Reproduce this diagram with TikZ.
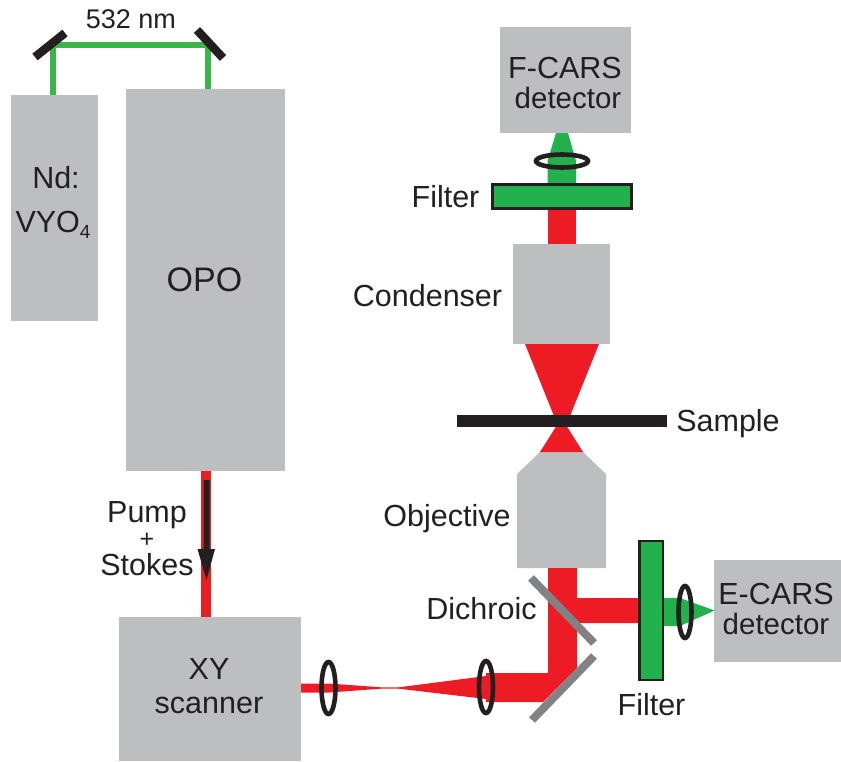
\documentclass[tikz,border=0pt]{standalone}
\usepackage{fontspec}
\setmainfont{Liberation Sans}
\definecolor{boxgray}{HTML}{BCBEC0}
\definecolor{beamred}{HTML}{ED1C24}
\definecolor{beamgreen}{HTML}{22B14C}
\definecolor{topgreen}{HTML}{39B54A}
\definecolor{inkblack}{HTML}{231F20}
\definecolor{mirrorgray}{HTML}{808285}
\tikzset{
  lbl/.style={anchor=base,inner sep=0pt,text=inkblack,font=\fontsize{30.5}{36}\selectfont},
  lens/.style={draw=inkblack,line width=4.6pt},
  filterbar/.style={fill=beamgreen,draw=inkblack,line width=2.6pt},
  mirrorbar/.style={draw=inkblack,line width=8.5pt},
  dichroicbar/.style={draw=mirrorgray,line width=8pt},
  greenline/.style={draw=topgreen,line width=5.5pt},
}
\begin{document}
\begin{tikzpicture}[x=1pt,y=-1pt]
\useasboundingbox (0,0) rectangle (841,761);
% boxes
\fill[boxgray] (11,95) rectangle (98,321);
\fill[boxgray] (126,89) rectangle (285,471);
\fill[boxgray] (500,27) rectangle (631,133);
\fill[boxgray] (513,244) rectangle (610,344);
\fill[boxgray] (540,452) -- (583,452) -- (606,474) -- (606,568) -- (517,568) -- (517,474) -- cycle;
\fill[boxgray] (714,560) rectangle (841,662);
\fill[boxgray] (119,617) rectangle (301,761);
% green line and mirrors
\draw[greenline,line join=miter] (53,95) -- (53,45) -- (208,45) -- (208,89);
\draw[mirrorbar] (35,57) -- (65,33);
\draw[mirrorbar] (197,30) -- (223,58);
% pump beam
\fill[beamred] (201,471) rectangle (211,617);
\fill[inkblack] (203.5,480) -- (209.5,480) -- (209.5,549) -- (215,549) -- (206.5,580) -- (197.5,549) -- (203.5,549) -- cycle;
% scanner beam
\fill[beamred] (301,683.5) -- (329,683.5) -- (382,687.4) -- (398,687.4) -- (486,676) -- (486,673) -- (548,673) -- (548,568) -- (577,568) -- (577,598) -- (639,598) -- (639,623) -- (577,623) -- (577,668) -- (543,702) -- (486,702) -- (486,699) -- (398,688.6) -- (382,688.6) -- (329,692.5) -- (301,692.5) -- cycle;
% red cones
\fill[beamred] (525,344) -- (599,344) -- (568,421) -- (556,421) -- cycle;
\fill[beamred] (540,452) -- (583,452) -- (566,425) -- (557,425) -- cycle;
\fill[beamred] (547.5,209) rectangle (576,244);
% sample
\fill[inkblack] (457,415) rectangle (667,427);
% green beams
\fill[beamgreen] (547.5,184) -- (547.5,161) -- (556,133) -- (568,133) -- (576,161) -- (576,184) -- cycle;
\fill[beamgreen] (663,598) -- (680,598) -- (714.5,610.5) -- (680,626) -- (663,626) -- cycle;
% filters
\path[filterbar] (492.5,184.5) rectangle (631.5,208.5);
\path[filterbar] (639.5,541) rectangle (663,680);
% lenses
\draw[lens] (562,161) ellipse [x radius=26,y radius=6.5];
\draw[lens] (685,612) ellipse [x radius=6.5,y radius=26];
\draw[lens] (328.5,688) ellipse [x radius=7,y radius=26];
\draw[lens] (486,687) ellipse [x radius=7,y radius=26];
% mirrors
\draw[dichroicbar] (531,578) -- (594,643);
\draw[dichroicbar] (532,720) -- (594,656);
% labels
\node[lbl,font=\fontsize{27}{32}\selectfont] (lambda) at (131,28) {532 nm};
\node[lbl] (nd) at (56,188) {Nd:};
\node[lbl] (vyo) at (53,232) {VYO\raisebox{-0.22em}{\fontsize{19}{20}\selectfont 4}};
\node[lbl,font=\fontsize{34}{40}\selectfont] (opo) at (204.5,291) {OPO};
\node[lbl] (pump) at (147,522) {Pump};
\node[lbl,font=\fontsize{25}{30}\selectfont] (plus) at (147,547.5) {+};
\node[lbl] (stokes) at (147,575) {Stokes};
\node[lbl] (xy) at (209,679) {XY};
\node[lbl] (scanner) at (209,713) {scanner};
\node[lbl] (fcars) at (565,78) {F-CARS};
\node[lbl,font=\fontsize{29.5}{35}\selectfont] (fdet) at (568,108) {detector};
\node[lbl] (ffilter) at (445.5,207) {Filter};
\node[lbl] (cond) at (427.5,306) {Condenser};
\node[lbl] (sample) at (728,431) {Sample};
\node[lbl] (obj) at (447,526) {Objective};
\node[lbl] (dich) at (481.5,619) {Dichroic};
\node[lbl] (efilter) at (651.5,715) {Filter};
\node[lbl] (ecars) at (776,604) {E-CARS};
\node[lbl,font=\fontsize{29.5}{35}\selectfont] (edet) at (776,634) {detector};
\end{tikzpicture}
\end{document}
